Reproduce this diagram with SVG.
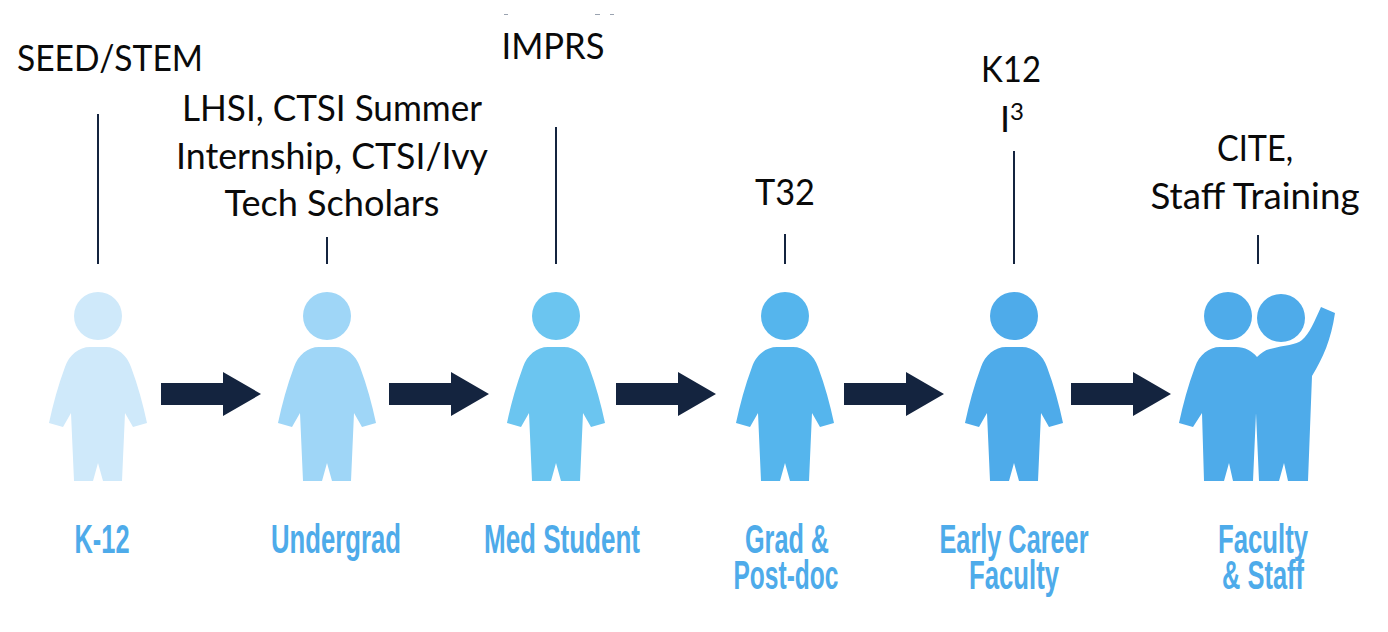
<svg xmlns="http://www.w3.org/2000/svg" width="1388" height="632" viewBox="0 0 1388 632">
<style>
.t{font-family:Lato,"Open Sans",sans-serif;font-size:36px;fill:#0a0a0a;text-anchor:middle}
.l{font-family:"Liberation Sans Narrow","Liberation Sans",sans-serif;font-weight:700;font-size:40px;fill:#4eabea;text-anchor:middle}
.c{stroke:#14243f;stroke-width:2;fill:none}
.a{fill:#14243f}
</style>
<defs>
<g id="person">
<circle cx="0" cy="316" r="24"/>
<path d="M-8 347C-19 347-29 355-33 367C-40 386-45 404-49 423L-35 427L-27 413L-24 481L-5 481L0 463L5 481L24 481L27 413L35 427L49 423C45 404 40 386 33 367C29 355 19 347 8 347Z"/>
</g>
<path id="arrow" class="a" d="M0 383H62V372L100 394L62 416V405H0Z"/>
</defs>
<rect width="1388" height="632" fill="#fff"/>
<g id="connectors">
<path class="c" d="M98 114V264M327 237V264M556 127V264M785 234V264M1014 151V264M1258 235V264"/>
<use href="#arrow" x="161"/>
<use href="#arrow" x="389"/>
<use href="#arrow" x="616"/>
<use href="#arrow" x="844"/>
<use href="#arrow" x="1071"/>
</g>
<g id="top-marks"><path d="M504 14.500h4M595 14.500h5M610 14.500h4" stroke="#9aa3b0" stroke-width="1" fill="none"/></g>
<g id="node-k12">
<use href="#person" x="98" fill="#cfe9fa"/>
<text class="t" x="110" y="71" textLength="186" lengthAdjust="spacingAndGlyphs">SEED/STEM</text>
<text class="l" x="102" y="553" textLength="55" lengthAdjust="spacingAndGlyphs">K-12</text>
</g>
<g id="node-undergrad">
<use href="#person" x="327" fill="#9fd6f7"/>
<text class="t" x="332" y="121" textLength="300" lengthAdjust="spacingAndGlyphs">LHSI, CTSI Summer</text>
<text class="t" x="332" y="169" textLength="312" lengthAdjust="spacingAndGlyphs">Internship, CTSI/Ivy</text>
<text class="t" x="332" y="216" textLength="215" lengthAdjust="spacingAndGlyphs">Tech Scholars</text>
<text class="l" x="336" y="553" textLength="130" lengthAdjust="spacingAndGlyphs">Undergrad</text>
</g>
<g id="node-med">
<use href="#person" x="556" fill="#6bc5f0"/>
<text class="t" x="553" y="59" textLength="103" lengthAdjust="spacingAndGlyphs">IMPRS</text>
<text class="l" x="562" y="553" textLength="156" lengthAdjust="spacingAndGlyphs">Med Student</text>
</g>
<g id="node-grad">
<use href="#person" x="785" fill="#55b5ed"/>
<text class="t" x="785" y="205" textLength="60" lengthAdjust="spacingAndGlyphs">T32</text>
<text class="l"><tspan x="787" y="553" textLength="84" lengthAdjust="spacingAndGlyphs">Grad &amp;</tspan><tspan x="786" y="589" textLength="105" lengthAdjust="spacingAndGlyphs">Post-doc</tspan></text>
</g>
<g id="node-early">
<use href="#person" x="1014" fill="#4eabea"/>
<text class="t" x="1011" y="82" textLength="60" lengthAdjust="spacingAndGlyphs">K12</text>
<text class="t" x="1012" y="132">I<tspan font-size="24" dy="-12">3</tspan></text>
<text class="l"><tspan x="1014" y="553" textLength="149" lengthAdjust="spacingAndGlyphs">Early Career</tspan><tspan x="1014" y="589" textLength="90" lengthAdjust="spacingAndGlyphs">Faculty</tspan></text>
</g>
<g id="node-faculty" fill="#4eabea">
<circle cx="1228" cy="316" r="24"/>
<circle cx="1281" cy="318" r="24"/>
<path d="M1220 347C1209 347 1199 355 1195 367C1188 386 1183 404 1179 423L1193 427L1202 413L1204 481L1224 481L1229 463L1233 481L1253 481L1256 413L1259 481L1279 481L1284 463L1288 481L1308 481L1312 376C1323 358 1331 340 1335 313L1321 307C1314 322 1310 333 1302 340C1296 345 1285 345 1270 349C1265 350 1261 353 1257 357C1252 351 1245 347 1236 347Z"/>
<text class="t" x="1255" y="161" textLength="76" lengthAdjust="spacingAndGlyphs">CITE,</text>
<text class="t" x="1255" y="209" textLength="209" lengthAdjust="spacingAndGlyphs">Staff Training</text>
<text class="l"><tspan x="1263" y="553" textLength="90" lengthAdjust="spacingAndGlyphs">Faculty</tspan><tspan x="1263" y="589" textLength="82" lengthAdjust="spacingAndGlyphs">&amp; Staff</tspan></text>
</g>
</svg>
